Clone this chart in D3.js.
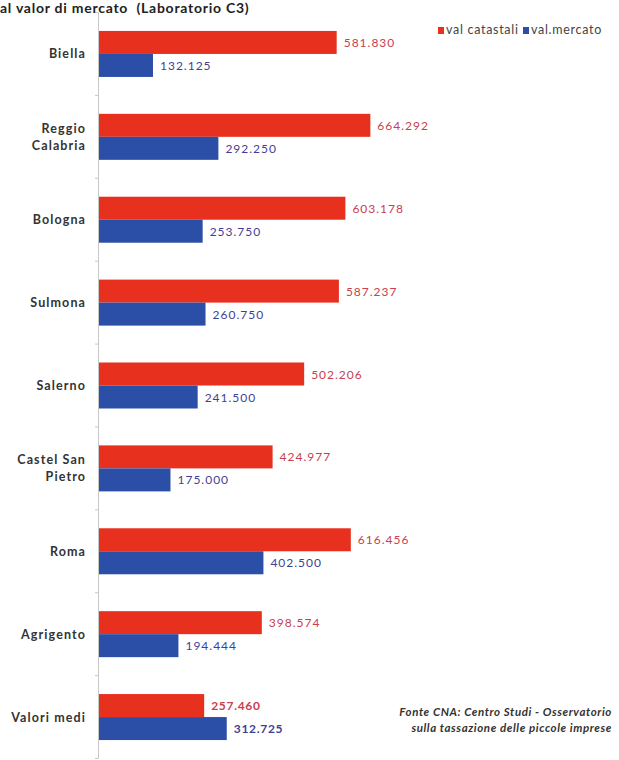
<!DOCTYPE html>
<html><head><meta charset="utf-8">
<script src="https://cdn.jsdelivr.net/npm/d3@7"></script>
<style>body{margin:0;background:#fff}svg{display:block}</style>
</head><body>
<script>
const categories = ["Biella","Reggio Calabria","Bologna","Sulmona","Salerno","Castel San Pietro","Roma","Agrigento","Valori medi"];
const categoryLines = [["Biella"],["Reggio","Calabria"],["Bologna"],["Sulmona"],["Salerno"],["Castel San","Pietro"],["Roma"],["Agrigento"],["Valori medi"]];
const valCatastali = [581830,664292,603178,587237,502206,424977,616456,398574,257460];
const valMercato = [132125,292250,253750,260750,241500,175000,402500,194444,312725];
const seriesNames = ["val catastali","val.mercato"];
const title = "al valor di mercato\u00a0 (Laboratorio C3)";
const source = ["Fonte CNA: Centro Studi - Osservatorio","sulla tassazione delle piccole imprese"];

const W=619,H=760;
const colors={red:"#e8301f",blue:"#2b4ea6",redTxt:"#c9404e",blueTxt:"#3f3f96"};
const svg=d3.select("body").append("svg").attr("width",W).attr("height",H);
const font="Lato, 'Open Sans', sans-serif";

const x=d3.scaleLinear().domain([0,700000]).range([99,99+700*0.4085]);
const y=d3.scaleBand().domain(categories).range([12.5,758.5]).paddingInner(0).paddingOuter(0);
const inner=d3.scaleBand().domain(["c","m"]).range([0,46]);
const off=(y.bandwidth()-46)/2;

// axis line + ticks
svg.append("line").attr("x1",98.5).attr("x2",98.5).attr("y1",12.5).attr("y2",758.5).attr("stroke","#c8c8c8").attr("stroke-width",1);
const bounds=d3.range(categories.length+1).map(i=>12.5+i*y.step());
svg.selectAll(".tk").data(bounds).join("line").attr("x1",95).attr("x2",98.5).attr("y1",d=>d).attr("y2",d=>d).attr("stroke","#c8c8c8");

const g=svg.append("g");
const fmt=v=>d3.format(",")(v).replace(/,/g,".");
categories.forEach((c,i)=>{
  const y0=y(c)+off;
  const last=i===categories.length-1;
  g.append("rect").attr("x",x(0)).attr("y",y0+inner("c")).attr("width",x(valCatastali[i])-x(0)).attr("height",inner.bandwidth()).attr("fill",colors.red);
  g.append("rect").attr("x",x(0)).attr("y",y0+inner("m")).attr("width",x(valMercato[i])-x(0)).attr("height",inner.bandwidth()).attr("fill",colors.blue);
  g.append("text").attr("x",x(valCatastali[i])+7).attr("y",y0+inner("c")+inner.bandwidth()/2+4.5).text(fmt(valCatastali[i]))
    .attr("font-family",font).attr("font-size",12).attr("letter-spacing",last?0.7:1).attr("font-weight",last?"bold":"normal").attr("fill",colors.redTxt);
  g.append("text").attr("x",x(valMercato[i])+7).attr("y",y0+inner("m")+inner.bandwidth()/2+4.5).text(fmt(valMercato[i]))
    .attr("font-family",font).attr("font-size",12).attr("letter-spacing",last?0.7:1).attr("font-weight",last?"bold":"normal").attr("fill",colors.blueTxt);
  const lines=categoryLines[i];
  const cy=y(c)+y.bandwidth()/2;
  lines.forEach((l,j)=>{
    g.append("text").attr("x",86).attr("y",cy+4.5+(j-(lines.length-1)/2)*17).attr("text-anchor","end")
      .attr("font-family",font).attr("font-size",12.5).attr("letter-spacing",1.1).attr("font-weight","bold").attr("fill","#333").text(l);
  });
});

// title
svg.append("text").attr("x",0).attr("y",13).attr("font-family",font).attr("font-size",14).attr("letter-spacing",0.75).attr("font-weight","bold").attr("fill","#222").text(title);

// legend
const lg=svg.append("g").attr("font-family",font).attr("font-size",12.5).attr("letter-spacing",0.7).attr("fill","#444");
lg.append("rect").attr("x",438).attr("y",27).attr("width",6).attr("height",7).attr("fill",colors.red);
lg.append("text").attr("x",446).attr("y",34).text(seriesNames[0]);
lg.append("rect").attr("x",523).attr("y",27).attr("width",6).attr("height",7).attr("fill",colors.blue);
lg.append("text").attr("x",531).attr("y",34).text(seriesNames[1]);

// source
source.forEach((s,i)=>{
  svg.append("text").attr("x",612).attr("y",716+i*15.5).attr("text-anchor","end").attr("font-family",font)
    .attr("font-size",11.5).attr("letter-spacing",0.6).attr("font-style","italic").attr("font-weight","bold").attr("fill","#333").text(s);
});
</script>
</body></html>
